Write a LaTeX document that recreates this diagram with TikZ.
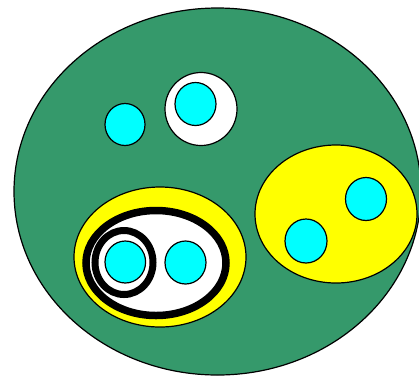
\documentclass[tikz,border=0pt]{standalone}
\usetikzlibrary{shapes.geometric}
\definecolor{bggreen}{RGB}{53,153,107}
\definecolor{setyellow}{RGB}{255,255,0}
\definecolor{dotcyan}{RGB}{0,255,255}
\tikzset{
  thin outline/.style={draw=black, line width=1.2pt},
  greenset/.style={thin outline, fill=bggreen},
  yellowset/.style={thin outline, fill=setyellow},
  whiteset/.style={thin outline, fill=white},
  cyandot/.style={thin outline, fill=dotcyan},
  thickset/.style={draw=black, line width=7pt, fill=white},
}
\begin{document}
\begin{tikzpicture}[x=1pt,y=-1pt]
\useasboundingbox (0,0) rectangle (419,376);
\clip (0,0) rectangle (419,376);
% outer universe
\draw[greenset] (217.5,191.5) ellipse [x radius=203.5, y radius=183.5];
% top-left dot
\draw[cyandot] (125,124.5) ellipse [x radius=20, y radius=21];
% white circle with dot
\draw[whiteset] (201,109) ellipse [x radius=36, y radius=36.5];
\draw[cyandot] (195.5,104) ellipse [x radius=20.5, y radius=21.5];
% right yellow set
\draw[yellowset] (336,214) ellipse [x radius=81, y radius=69];
\draw[cyandot] (366,199) ellipse [x radius=20.5, y radius=21.5];
\draw[cyandot] (306,241) ellipse [x radius=21, y radius=22];
% lower-left yellow set
\draw[yellowset] (160,257) ellipse [x radius=86, y radius=70];
\draw[thickset, line width=7.5pt] (156,263) ellipse [x radius=70, y radius=52.5];
\draw[thickset] (124,262.5) ellipse [x radius=29, y radius=32];
\draw[cyandot] (125.3,262) ellipse [x radius=20.3, y radius=21];
\draw[cyandot] (185.5,262.5) ellipse [x radius=20.5, y radius=21.5];
\end{tikzpicture}
\end{document}
